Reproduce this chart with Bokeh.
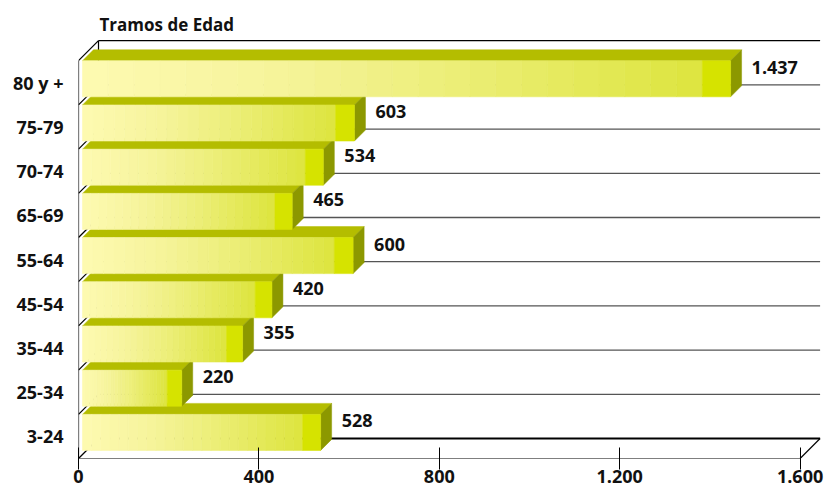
from bokeh.plotting import figure
from bokeh.models import Range1d, FixedTicker, Label
from bokeh.core.properties import value
from bokeh.embed import file_html
from bokeh.resources import INLINE

# ---- data ----
categories = ["3-24", "25-34", "35-44", "45-54", "55-64", "65-69", "70-74", "75-79", "80 y +"]
counts = [528, 220, 355, 420, 600, 465, 534, 603, 1437]
value_labels = ["528", "220", "355", "420", "600", "465", "534", "603", "1.437"]
x_ticks = [0, 400, 800, 1200, 1600]
x_tick_labels = ["0", "400", "800", "1.200", "1.600"]
title_text = "Tramos de Edad"

# ---- layout / style constants ----
W, H = 831, 494
BL, BB = 78, 36
PXV = 0.451      # pixels per value unit
PXC = 44.2       # pixels per category
FONT = "Open Sans"
FS = "18px"

x_end = (W - BL) / PXV
y_end = (H - BB) / PXC

N = len(categories)
xmax = x_ticks[-1]
DEPTH = 20.0
dxw, dyw = DEPTH / PXV, DEPTH / PXC
FRONT, BACK = 4.0, 15.0
fx, fy = FRONT / PXV, FRONT / PXC
bx, by = BACK / PXV, BACK / PXC
BAR_H = 0.815

p = figure(width=W, height=H, output_backend="svg", toolbar_location=None, tools="",
           x_range=Range1d(0, x_end), y_range=Range1d(0, y_end),
           min_border_left=BL, min_border_right=0, min_border_top=0, min_border_bottom=BB)
p.background_fill_color = "white"
p.border_fill_color = "white"
p.outline_line_color = None
p.xgrid.visible = False
p.ygrid.visible = False

# ---- axes ----
xa = p.xaxis[0]
xa.ticker = FixedTicker(ticks=x_ticks, minor_ticks=[])
xa.major_label_overrides = {t: l for t, l in zip(x_ticks, x_tick_labels)}
xa.axis_line_color = None
xa.major_tick_in = 11
xa.major_tick_out = 11
xa.major_tick_line_color = "black"
xa.major_tick_line_width = 1
xa.major_label_standoff = 0
xa.major_label_text_font = FONT
xa.major_label_text_font_style = "bold"
xa.major_label_text_font_size = FS
xa.major_label_text_color = "#111111"

ya = p.yaxis[0]
ya_ticks = [i + 0.5 for i in range(N)]
ya.ticker = FixedTicker(ticks=ya_ticks, minor_ticks=[])
ya.major_label_overrides = {t: c for t, c in zip(ya_ticks, categories)}
ya.axis_line_color = None
ya.major_tick_in = 0
ya.major_tick_out = 0
ya.major_label_standoff = 15
ya.major_label_text_font = FONT
ya.major_label_text_font_style = "bold"
ya.major_label_text_font_size = FS
ya.major_label_text_color = "#111111"

# ---- 3D frame: back wall grid lines ----
gx0 = [dxw] * (N - 1)
gx1 = [xmax + dxw] * (N - 1)
gy = [k + dyw for k in range(1, N)]
p.segment(x0=gx0, y0=gy, x1=gx1, y1=gy, line_color="#555555", line_width=1.3)

# black edges
ex0, ey0, ex1, ey1 = [], [], [], []
ex0.append(0); ey0.append(0); ex1.append(0); ey1.append(N)                 # front-left vertical
for k in range(N + 1):                                                      # left wall diagonals
    ex0.append(0); ey0.append(k); ex1.append(dxw); ey1.append(k + dyw)
ex0.append(dxw); ey0.append(N - 0.5); ex1.append(dxw); ey1.append(N + dyw)  # back wall left (visible part)
ex0.append(dxw); ey0.append(N + dyw); ex1.append(xmax + dxw); ey1.append(N + dyw)  # back top
ex0.append(0); ey0.append(0); ex1.append(xmax); ey1.append(0)              # floor front
ex0.append(xmax); ey0.append(0); ex1.append(xmax + dxw); ey1.append(dyw)   # floor right diagonal
p.segment(x0=ex0, y0=ey0, x1=ex1, y1=ey1, line_color="black", line_width=1.2)
p.segment(x0=[dxw], y0=[dyw], x1=[xmax + dxw], y1=[dyw], line_color="black", line_width=2)

# ---- bars ----
top_xs, top_ys, side_xs, side_ys = [], [], [], []
ql, qr, qb, qt, qc = [], [], [], [], []

stops = [(0.0, (253, 250, 178)), (0.3, (246, 244, 156)), (0.6, (236, 238, 120)),
         (1.0, (221, 229, 62))]
END_COLOR = "#d6e300"


def grad(t):
    for (t0, c0), (t1, c1) in zip(stops[:-1], stops[1:]):
        if t <= t1:
            f = (t - t0) / (t1 - t0)
            return "#%02x%02x%02x" % tuple(int(round(a + (b - a) * f)) for a, b in zip(c0, c1))
    return "#%02x%02x%02x" % stops[-1][1]


NS = 24
for i, v in enumerate(counts):
    c = i + 0.5 + fy
    tf, bf = c + BAR_H / 2, c - BAR_H / 2
    tb, bb = tf + (by - fy), bf + (by - fy)
    top_xs.append([fx, v + fx, v + bx, bx])
    top_ys.append([tf, tf, tb, tb])
    side_xs.append([v + fx, v + fx, v + bx, v + bx])
    side_ys.append([bf, tf, tb, bb])
    band = 12 / PXV + 0.025 * v          # solid bright end band
    body = v - band
    for j in range(NS):
        ql.append(fx + body * j / NS)
        qr.append(fx + body * (j + 1) / NS)
        qb.append(bf)
        qt.append(tf)
        qc.append(grad((j + 0.5) / NS))
    ql.append(fx + body); qr.append(fx + v); qb.append(bf); qt.append(tf); qc.append(END_COLOR)

p.patches(xs=top_xs, ys=top_ys, fill_color="#b4bd00", line_color="#b4bd00", line_width=0.5)
p.patches(xs=side_xs, ys=side_ys, fill_color="#8c9800", line_color="#8c9800", line_width=0.5)
p.quad(left=ql, right=qr, bottom=qb, top=qt, fill_color=qc, line_color=qc, line_width=0.6)

# ---- value labels ----
lx = [v + (BACK + 10) / PXV for v in counts]
ly = [i + 0.5 + 15.5 / PXC for i in range(N)]
p.text(x=lx, y=ly, text=value_labels, text_font=value(FONT), text_font_style="bold",
       text_font_size=FS, text_baseline="middle", text_align="left", text_color="#111111")

# ---- title ----
p.add_layout(Label(x=dxw, y=N + dyw, x_offset=1, y_offset=16, text=title_text,
                   text_font=FONT, text_font_style="bold", text_font_size="17px",
                   text_baseline="alphabetic", text_align="left", text_color="#111111"))

open("out.html", "w").write(file_html(p, INLINE))
